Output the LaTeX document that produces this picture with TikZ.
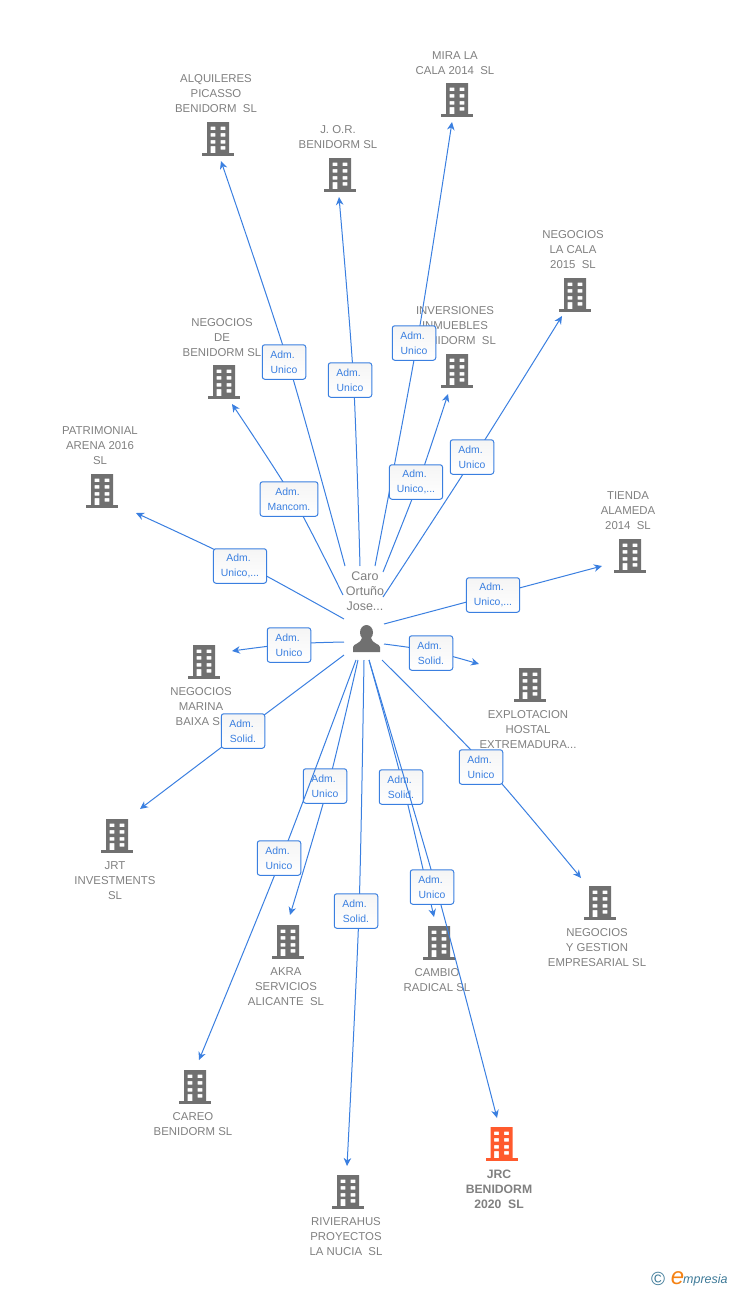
\documentclass[tikz,border=0pt]{standalone}
\usepackage{fontspec}
\setmainfont{Liberation Sans}
\usetikzlibrary{arrows.meta}
\definecolor{linkblue}{RGB}{58,127,224}
\definecolor{bldgray}{RGB}{112,112,112}
\definecolor{txtgray}{RGB}{128,128,128}
\definecolor{bldred}{RGB}{255,90,45}
\definecolor{logoteal}{RGB}{62,122,152}
\definecolor{logoorange}{RGB}{245,130,20}
\tikzset{
	bld/.pic={
		\fill[pic actions,even odd rule] (-11,-17) rectangle (11,14)
			(-7.3,-12.5) rectangle (-2.7,-9) (2.7,-12.5) rectangle (7.3,-9)
			(-7.3,-6) rectangle (-2.7,-2.5) (2.7,-6) rectangle (7.3,-2.5)
			(-7.3,1) rectangle (-2.7,4.5) (2.7,1) rectangle (7.3,4.5)
			(-7.3,7) rectangle (-2.7,14) (2.7,7) rectangle (7.3,10.5);
		\fill[pic actions] (-16,14) rectangle (16,17);
	}
}
\newcommand{\company}[4]{
	\pic[fill=bldgray] at (#2) {bld};
	\node[comp label] (l#1) at (#3) {#4};
}
\newcommand{\admlink}[6]{
	\coordinate (s#1) at (#2);
	\coordinate (v#1) at (#3);
	\coordinate (e#1) at (#4);
	\draw[link] plot[smooth,tension=.5] coordinates {(s#1) (v#1) (e#1)};
	\node[adm box] (b#1) at (#5) {#6};
}
\begin{document}
\begin{tikzpicture}[x=1pt,y=-1pt,
			comp label/.style={align=center,inner sep=0pt,text=txtgray,yshift=-1pt,font=\fontsize{11.4}{15}\selectfont},
			adm box/.style={draw=linkblue,rounded corners=2.5pt,top color=black!4,bottom color=white,line width=1pt,align=center,text=linkblue,inner xsep=7.5pt,inner ysep=2pt,minimum width=43.5pt,minimum height=34.5pt,font=\fontsize{10.4}{15}\selectfont},
			link/.style={draw=linkblue,line width=1pt,-{Stealth[length=8pt,width=7.5pt,inset=2.5pt]}}
			]
			
			\def \uni {Adm.\hspace*{2.8pt}\\Unico};
			\def \unid {Adm.\hspace*{2.8pt}\\Unico,...};
			\def \sol {Adm.\hspace*{2.8pt}\\Solid.};
			\def \man {Adm.\hspace*{2.8pt}\\Mancom.};
			
			\useasboundingbox (0,0) rectangle (728,1290);
			
			\company{alq}{218,139}{216,93}{ALQUILERES\\PICASSO\\BENIDORM\ \ SL}
			\company{jor}{340,175}{338,136.5}{J. O.R.\\BENIDORM SL}
			\company{mira}{457,100}{455,62.5}{MIRA LA\\CALA 2014\ \ SL}
			\company{inv}{457,371}{455,325}{INVERSIONES\\INMUEBLES\\BENIDORM\ \ SL}
			\company{cala}{575,295}{573,249}{NEGOCIOS\\LA CALA\\2015\ \ SL}
			\company{neg}{224,382}{222,337}{NEGOCIOS\\DE\\BENIDORM SL}
			\company{pat}{102,491}{100,445}{PATRIMONIAL\\ARENA 2016\\SL}
			\company{tie}{630,556}{628,510}{TIENDA\\ALAMEDA\\2014\ \ SL}
			\company{mar}{204,662}{201,706}{NEGOCIOS\\MARINA\\BAIXA SL}
			\company{expl}{530,685}{528,729}{EXPLOTACION\\HOSTAL\\EXTREMADURA...}
			\company{jrt}{117,836}{115,880}{JRT\\INVESTMENTS\\SL}
			\company{akr}{288,942}{286,986}{AKRA\\SERVICIOS\\ALICANTE\ \ SL}
			\company{car}{195,1087}{193,1123.5}{CAREO\\BENIDORM SL}
			\company{riv}{348,1192}{346,1236}{RIVIERAHUS\\PROYECTOS\\LA NUCIA\ \ SL}
			\company{cam}{439,943}{437,979.5}{CAMBIO\\RADICAL SL}
			\company{ges}{600,903}{597,947}{NEGOCIOS\\Y GESTION\\EMPRESARIAL SL}
			
			\pic[fill=bldred] at (501.5,1144) {bld};
			\node[comp label,font=\bfseries\fontsize{12.2}{15}\selectfont] (ljrc) at (499,1188) {JRC\\BENIDORM\\2020\ \ SL};
			
			\node[comp label,font=\fontsize{12.5}{15}\selectfont] (caro) at (365,590) {Caro\\Ortuño\\Jose...};
			\fill[bldgray] (366.5,632.5) ellipse (6.5 and 7.5);
			\fill[bldgray] (353,652) -- (353,647) .. controls (353,644) and (361,643.5) .. (362,638) -- (371,638) .. controls (372,643.5) and (380,644) .. (380,647) -- (380,652) -- cycle;
			
			\admlink{alq}{345,566}{288,362}{221,161}{284,362}{\uni}
			\admlink{jor}{360,566}{353.5,380}{339,197}{350,380}{\uni}
			\admlink{mira}{375,566}{417,343}{452,122}{414,343}{\uni}
			\admlink{inv}{383,572}{418.5,482}{448,394}{416,482}{\unid}
			\admlink{cala}{383,597}{474,457}{562,316}{472,457}{\uni}
			\admlink{neg}{343,595}{293.5,499}{232,404}{289,499}{\man}
			\admlink{pat}{344,619}{240,562}{136,513}{240,566}{\unid}
			\admlink{tie}{384,624}{493,595}{602,566}{493,595}{\unid}
			\admlink{mar}{344,642}{289,644}{232,651}{289,645}{\uni}
			\admlink{expl}{384,644}{431,651}{479,664}{431,653}{\sol}
			\admlink{jrt}{344,655}{243,731}{140,809}{243,731}{\sol}
			\admlink{akr}{358,660}{328,786}{290,915}{325,786}{\uni}
			\admlink{car}{356,660}{281,859}{199,1060}{279,858}{\uni}
			\admlink{riv}{364,660}{359,911}{347,1166}{356,911}{\sol}
			\admlink{cam}{369,660}{403.5,787}{434,917}{401,787}{\sol}
			\admlink{jrc}{369,660}{436,887}{497,1118}{432,887}{\uni}
			\admlink{ges}{382,660}{487,767}{581,878}{481,767}{\uni}
			
			\node[inner sep=0pt,text=logoteal,font=\fontsize{19}{19}\selectfont] (copy) at (658,1279) {©};
			\node[inner sep=0pt,text=logoorange,font=\itshape\fontsize{24}{24}\selectfont] (loge) at (677.5,1278) {e};
			\node[inner sep=0pt,anchor=west,text=logoteal,font=\itshape\fontsize{12.5}{12.5}\selectfont] (logo) at (683,1280) {mpresia};
			
			\end{tikzpicture}
\end{document}
